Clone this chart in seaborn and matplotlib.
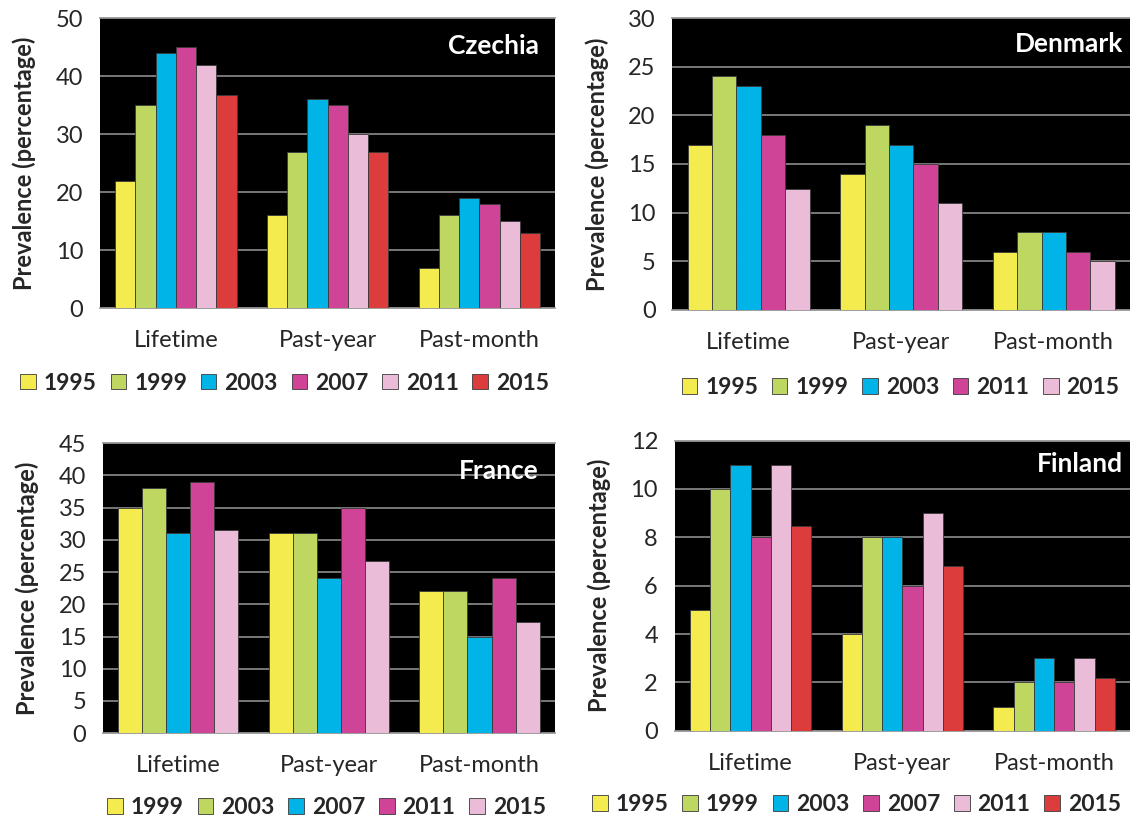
import matplotlib
matplotlib.use("Agg")
import matplotlib.pyplot as plt
import seaborn as sns
import pandas as pd

categories = ["Lifetime", "Past-year", "Past-month"]

cz_years = ["1995", "1999", "2003", "2007", "2011", "2015"]
cz_lifetime = [22, 35, 44, 45, 42, 36.8]
cz_pastyear = [16, 27, 36, 35, 30, 27]
cz_pastmonth = [7, 16, 19, 18, 15, 12.9]

dk_years = ["1995", "1999", "2003", "2011", "2015"]
dk_lifetime = [17, 24, 23, 18, 12.4]
dk_pastyear = [14, 19, 17, 15, 11]
dk_pastmonth = [6, 8, 8, 6, 5]

fr_years = ["1999", "2003", "2007", "2011", "2015"]
fr_lifetime = [35, 38, 31, 39, 31.5]
fr_pastyear = [31, 31, 24, 35, 26.7]
fr_pastmonth = [22, 22, 15, 24, 17.3]

fi_years = ["1995", "1999", "2003", "2007", "2011", "2015"]
fi_lifetime = [5, 10, 11, 8, 11, 8.45]
fi_pastyear = [4, 8, 8, 6, 9, 6.8]
fi_pastmonth = [1, 2, 3, 2, 3, 2.2]

colors = ["#F4EB4E", "#BDD760", "#00B4E8", "#CF4496", "#EBBCD8", "#DD3C3C"]

sns.set_style("white")
plt.rcParams["font.family"] = ["Lato", "DejaVu Sans"]

fig = plt.figure(figsize=(11.3, 8.22), dpi=100)

panels = [
    ("Czechia", cz_years, [cz_lifetime, cz_pastyear, cz_pastmonth], 50, 10,
     [0.0885, 0.625, 0.403, 0.353], (0.965, 0.905), (0.252, 0.534)),
    ("Denmark", dk_years, [dk_lifetime, dk_pastyear, dk_pastmonth], 30, 5,
     [0.595, 0.623, 0.405, 0.355], (0.985, 0.91), (0.797, 0.529)),
    ("France", fr_years, [fr_lifetime, fr_pastyear, fr_pastmonth], 45, 5,
     [0.091, 0.108, 0.400, 0.353], (0.965, 0.905), (0.289, 0.018)),
    ("Finland", fi_years, [fi_lifetime, fi_pastyear, fi_pastmonth], 12, 2,
     [0.597, 0.111, 0.403, 0.353], (0.985, 0.92), (0.758, 0.021)),
]

for name, years, vals, ymax, step, pos, tpos, legpos in panels:
    rows = []
    for cat, series in zip(categories, vals):
        for yr, v in zip(years, series):
            rows.append({"cat": cat, "year": yr, "val": v})
    df = pd.DataFrame(rows)
    ax = fig.add_axes(pos)
    ax.set_facecolor("black")
    sns.barplot(data=df, x="cat", y="val", hue="year", order=categories,
                hue_order=years, palette=colors[:len(years)], width=0.8,
                saturation=1, edgecolor="#3a3a3a", linewidth=0.6, ax=ax, zorder=3)
    ax.set_ylim(0, ymax)
    ax.set_xlim(-0.5, 2.5)
    ax.set_yticks(range(0, ymax + 1, step))
    ax.yaxis.grid(True, color="#8c8c8c", linewidth=1.2, zorder=1)
    ax.set_axisbelow(True)
    for s in ["top", "bottom"]:
        ax.spines[s].set_color("#8c8c8c")
        ax.spines[s].set_linewidth(1.2)
    for s in ["left", "right"]:
        ax.spines[s].set_visible(False)
    ax.tick_params(axis="x", length=0, pad=16, labelsize=17)
    ax.tick_params(axis="y", length=0, pad=12, labelsize=17)
    ax.set_xlabel("")
    ax.set_ylabel("Prevalence (percentage)", fontsize=17, fontweight="bold", labelpad=14)
    ax.text(tpos[0], tpos[1], name, transform=ax.transAxes, color="white",
            fontsize=19, fontweight="bold", ha="right", va="center", zorder=5)
    handles, labels = ax.get_legend_handles_labels()
    ax.get_legend().remove()
    fig.legend(handles, labels, ncol=len(years), loc="center",
               bbox_to_anchor=legpos, frameon=False,
               prop={"weight": "bold", "size": 16.5}, handlelength=0.68,
               handleheight=0.68, handletextpad=0.35, columnspacing=0.6,
               borderpad=0.1)

fig.savefig("out.png", dpi=100)
